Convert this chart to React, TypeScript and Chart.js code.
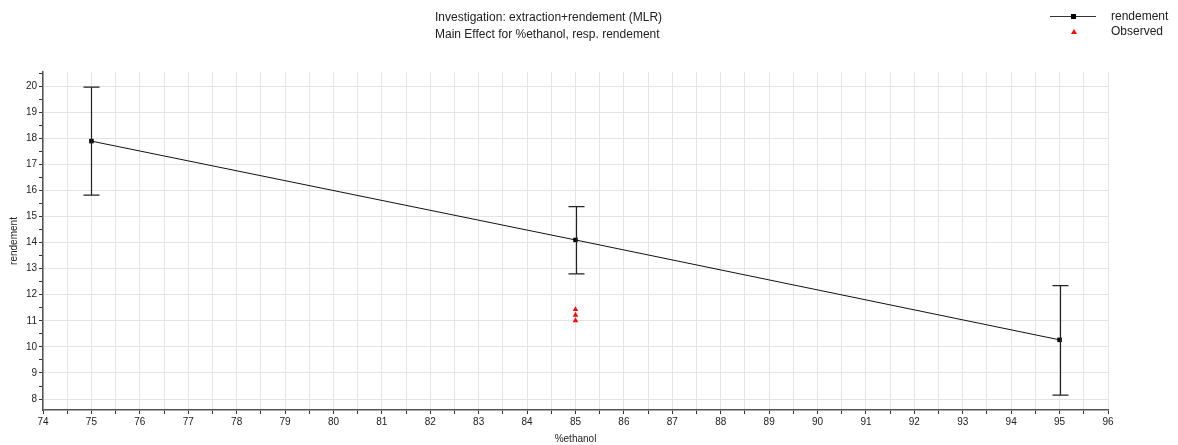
import React, { useEffect, useRef } from "react";
import { Chart, registerables } from "chart.js";

Chart.register(...registerables);

const ethanol = [75, 85, 95];
const rendement = [17.89, 14.1, 10.27];
const errLow = [15.82, 12.8, 8.15];
const errHigh = [19.96, 15.38, 12.35];
const observedX = [85, 85, 85];
const observedY = [11.44, 11.22, 11.01];
const titleLines = ["Investigation: extraction+rendement (MLR)", "Main Effect for %ethanol, resp. rendement"];
const legendLabels = ["rendement", "Observed"];

const FONT = "'Liberation Sans', Arial, sans-serif";

const errorBarPlugin = {
  id: "errorBars",
  afterDatasetsDraw(chart: any) {
    const { ctx, scales } = chart;
    const xs = scales.x;
    const ys = scales.y;
    ctx.save();
    ctx.strokeStyle = "#222";
    ctx.lineWidth = 1.2;
    for (let i = 0; i < ethanol.length; i++) {
      const x = Math.round(xs.getPixelForValue(ethanol[i])) + 0.5;
      const y1 = ys.getPixelForValue(errLow[i]);
      const y2 = ys.getPixelForValue(errHigh[i]);
      ctx.beginPath();
      ctx.moveTo(x, y1);
      ctx.lineTo(x, y2);
      ctx.moveTo(x - 8, y1);
      ctx.lineTo(x + 8, y1);
      ctx.moveTo(x - 8, y2);
      ctx.lineTo(x + 8, y2);
      ctx.stroke();
    }
    ctx.restore();
  },
};

const headerPlugin = {
  id: "header",
  afterDraw(chart: any) {
    const { ctx } = chart;
    ctx.save();
    ctx.fillStyle = "#222";
    ctx.font = `12px ${FONT}`;
    ctx.textBaseline = "middle";
    ctx.textAlign = "left";
    ctx.fillText(titleLines[0], 427, 10);
    ctx.fillText(titleLines[1], 427, 27);
    // legend
    ctx.strokeStyle = "#333";
    ctx.lineWidth = 1;
    ctx.beginPath();
    ctx.moveTo(1042, 8.5);
    ctx.lineTo(1088, 8.5);
    ctx.stroke();
    ctx.fillStyle = "#000";
    ctx.fillRect(1063, 6, 5, 5);
    ctx.fillStyle = "#f00";
    ctx.beginPath();
    ctx.moveTo(1066, 21);
    ctx.lineTo(1069, 26);
    ctx.lineTo(1063, 26);
    ctx.closePath();
    ctx.fill();
    ctx.fillStyle = "#222";
    ctx.font = `12px ${FONT}`;
    ctx.fillText(legendLabels[0], 1103, 8.5);
    ctx.fillText(legendLabels[1], 1103, 24);
    ctx.restore();
  },
};

export default function App() {
  const ref = useRef<HTMLCanvasElement>(null);
  useEffect(() => {
    document.body.style.overflow = "hidden";
    const chart = new Chart(ref.current!, {
      type: "line",
      data: {
        datasets: [
          {
            label: legendLabels[0],
            data: ethanol.map((x, i) => ({ x, y: rendement[i] })),
            borderColor: "#111",
            borderWidth: 1,
            backgroundColor: "#000",
            pointStyle: "rect",
            pointRadius: 3.2,
            pointBorderWidth: 0,
            tension: 0,
          },
          {
            label: legendLabels[1],
            data: observedX.map((x, i) => ({ x, y: observedY[i] })),
            showLine: false,
            pointStyle: "triangle",
            pointRadius: 3.2,
            backgroundColor: "#f00",
            borderColor: "#f00",
            pointBorderWidth: 0,
          },
        ],
      },
      options: {
        animation: false,
        responsive: false,
        layout: { padding: { top: 64, right: 62, left: 0, bottom: 0 } },
        plugins: { legend: { display: false }, title: { display: false }, tooltip: { enabled: false } },
        scales: {
          x: {
            type: "linear",
            min: 74,
            max: 96,
            afterFit: (s: any) => { s.height = 35; },
            border: { color: "#555", width: 1.5 },
            grid: { color: "#e4e4e4", tickColor: "#333", tickLength: 4, lineWidth: 1 },
            ticks: {
              stepSize: 0.5,
              autoSkip: false,
              maxRotation: 0,
              padding: 2,
              color: "#222",
              font: { family: FONT, size: 10 },
              callback: (v: any) => (Number(v) % 1 === 0 ? String(v) : ""),
            },
            title: { display: true, text: "%ethanol", color: "#222", font: { family: FONT, size: 10 }, padding: { top: 0, bottom: 0 } },
          },
          y: {
            type: "linear",
            min: 7.58,
            max: 20.54,
            afterFit: (s: any) => { s.width = 35; },
            border: { color: "#555", width: 1.5 },
            grid: {
              color: (c: any) => (c.tick && c.tick.value % 1 === 0 ? "#e4e4e4" : "rgba(0,0,0,0)"),
              tickColor: "#333",
              tickLength: 4,
              lineWidth: 1,
            },
            ticks: {
              stepSize: 0.5,
              includeBounds: false,
              autoSkip: false,
              padding: 2,
              color: "#222",
              font: { family: FONT, size: 10 },
              callback: (v: any) => (Number(v) % 1 === 0 ? String(v) : ""),
            },
            title: { display: true, text: "rendement", color: "#222", font: { family: FONT, size: 10 }, padding: { top: 0, bottom: 2 } },
          },
        },
      },
      plugins: [errorBarPlugin, headerPlugin],
    });
    return () => chart.destroy();
  }, []);
  return (
    <div style={{ width: 1162, height: 437 }}>
      <canvas ref={ref} width={1162} height={437} style={{ display: "block" }} />
    </div>
  );
}
